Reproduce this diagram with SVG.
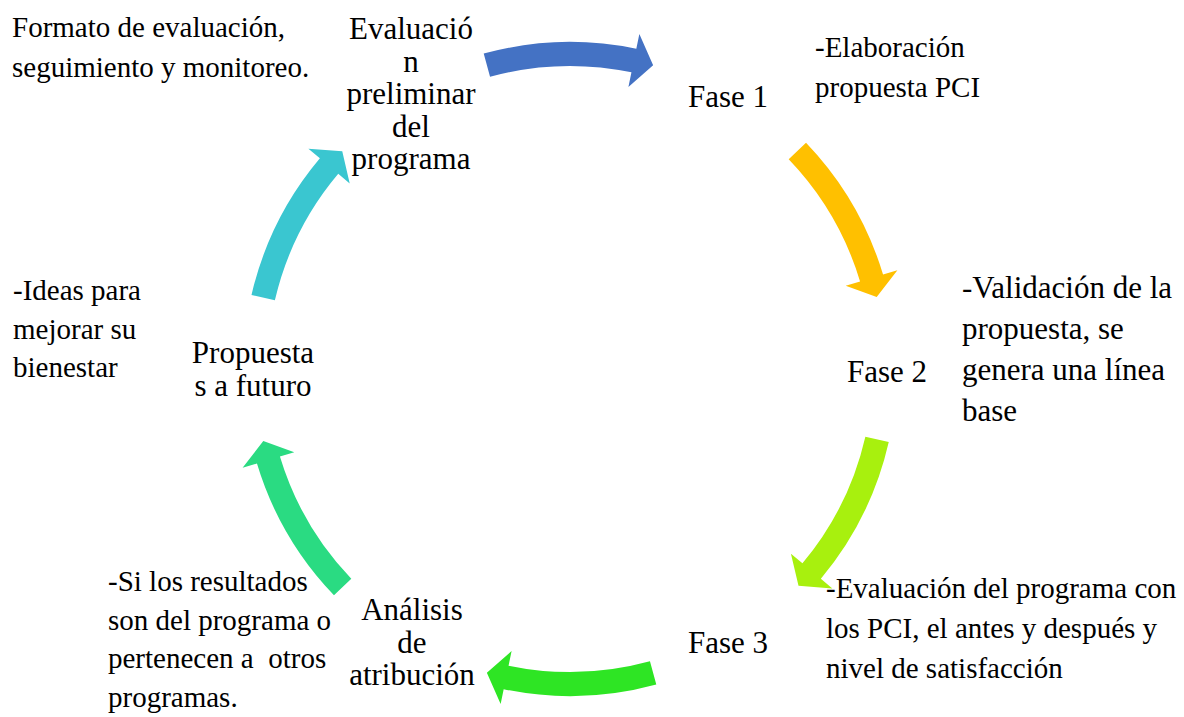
<svg xmlns="http://www.w3.org/2000/svg" width="1184" height="717" viewBox="0 0 1184 717">
<defs>
<style>
.n{font-size:31px;text-anchor:middle;}
.d{font-size:29px;}
.v{font-size:31px;}
</style>
<path id="arc" d="M -86.29,-315.42 A 327 327 0 0 1 66.32,-320.20 L 69.36,-334.89 L 83.13,-303.85 L 58.41,-282.01 L 61.45,-296.70 A 303 303 0 0 0 -79.96,-292.27 Z"/>
</defs>
<rect width="1184" height="717" fill="#fff"/>
<g font-family="Liberation Serif, DejaVu Serif, serif" fill="#000">
<g id="note-formato">
<text class="d" x="12" y="37">Formato de evaluación,</text>
<text class="d" x="12" y="77">seguimiento y monitoreo.</text>
</g>
<g id="node-evaluacion">
<text class="n" x="411" y="39">Evaluació</text>
<text class="n" x="411" y="71.5">n</text>
<text class="n" x="411" y="104">preliminar</text>
<text class="n" x="411" y="136.5">del</text>
<text class="n" x="411" y="169">programa</text>
</g>
<g id="node-fase1">
<text class="n" x="728" y="107">Fase 1</text>
</g>
<g id="note-fase1">
<text class="d" x="815" y="57">-Elaboración</text>
<text class="d" x="815" y="97">propuesta PCI</text>
</g>
<g id="node-fase2">
<text class="n" x="887" y="382">Fase 2</text>
</g>
<g id="note-fase2">
<text class="v" x="962" y="298">-Validación de la</text>
<text class="v" x="962" y="339">propuesta, se</text>
<text class="v" x="962" y="380">genera una línea</text>
<text class="v" x="962" y="421">base</text>
</g>
<g id="node-fase3">
<text class="n" x="728" y="653">Fase 3</text>
</g>
<g id="note-fase3">
<text class="d" x="826" y="598">-Evaluación del programa con</text>
<text class="d" x="826" y="638">los PCI, el antes y después y</text>
<text class="d" x="826" y="678">nivel de satisfacción</text>
</g>
<g id="node-analisis">
<text class="n" x="412" y="620">Análisis</text>
<text class="n" x="412" y="652.5">de</text>
<text class="n" x="412" y="685">atribución</text>
</g>
<g id="note-analisis">
<text class="d" x="108" y="591" xml:space="preserve">-Si los resultados</text>
<text class="d" x="108" y="629.5" xml:space="preserve">son del programa o</text>
<text class="d" x="108" y="668" xml:space="preserve">pertenecen a  otros</text>
<text class="d" x="108" y="706.5" xml:space="preserve">programas.</text>
</g>
<g id="node-propuestas">
<text class="n" x="253" y="363">Propuesta</text>
<text class="n" x="253" y="395.5">s a futuro</text>
</g>
<g id="note-propuestas">
<text class="d" x="13" y="300">-Ideas para</text>
<text class="d" x="13" y="338.5">mejorar su</text>
<text class="d" x="13" y="377">bienestar</text>
</g>
</g>
<g id="connectors">
<use href="#arc" fill="#4472C4" transform="translate(570,369) rotate(0)"/>
<use href="#arc" fill="#FFC000" transform="translate(570,369) rotate(61.5)"/>
<use href="#arc" fill="#A8F00E" transform="translate(570,369) rotate(118.2)"/>
<use href="#arc" fill="#2EE524" transform="translate(570,369) rotate(180)"/>
<use href="#arc" fill="#2ADB82" transform="translate(570,369) rotate(241.5)"/>
<use href="#arc" fill="#3AC6D0" transform="translate(570,369) rotate(298.4)"/>
</g>
</svg>
